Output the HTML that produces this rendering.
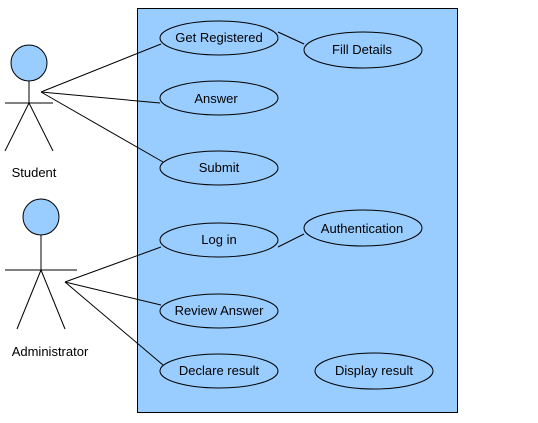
<!DOCTYPE html>
<html><head><meta charset="utf-8"><style>
html,body{margin:0;padding:0;background:#fff;}
svg{display:block}
text{font-family:"Liberation Sans",Arial,sans-serif;font-size:13px;fill:#000;}
</style></head><body>
<svg width="538" height="423" viewBox="0 0 538 423" xmlns="http://www.w3.org/2000/svg">
<rect x="137.5" y="8.5" width="320" height="404" fill="#99ccff" stroke="#000" stroke-width="1"/>
<g stroke="#000" stroke-width="1" fill="none">
<line x1="41" y1="92" x2="161" y2="44"/>
<line x1="41" y1="92" x2="160" y2="103"/>
<line x1="41" y1="92" x2="163" y2="162"/>
<line x1="278" y1="32" x2="304" y2="44"/>
<line x1="65" y1="282" x2="161" y2="247"/>
<line x1="65" y1="282" x2="161" y2="305"/>
<line x1="65" y1="282" x2="163" y2="365"/>
<line x1="278" y1="247" x2="304" y2="234"/>
<line x1="29" y1="81" x2="29" y2="103"/>
<line x1="5" y1="103" x2="53" y2="103"/>
<line x1="29" y1="103" x2="5" y2="151"/>
<line x1="29" y1="103" x2="53" y2="151"/>
<line x1="41" y1="235" x2="41" y2="270"/>
<line x1="5" y1="270" x2="77" y2="270"/>
<line x1="41" y1="270" x2="17" y2="329"/>
<line x1="41" y1="270" x2="65" y2="329"/>
</g>
<g stroke="#000" stroke-width="1" fill="#99ccff">
<circle cx="29" cy="63" r="18"/>
<circle cx="41" cy="217" r="18"/>
<ellipse cx="219" cy="38" rx="59" ry="17"/>
<ellipse cx="219" cy="98" rx="59" ry="17"/>
<ellipse cx="219" cy="168" rx="59" ry="17"/>
<ellipse cx="219" cy="240" rx="59" ry="17"/>
<ellipse cx="219" cy="311" rx="59" ry="17"/>
<ellipse cx="219" cy="371" rx="59" ry="17"/>
<ellipse cx="363" cy="50" rx="59" ry="18"/>
<ellipse cx="363" cy="228" rx="59" ry="18"/>
<ellipse cx="374" cy="371" rx="59" ry="18"/>
</g>
<g text-anchor="middle">
<text x="219" y="42">Get Registered</text>
<text x="216" y="103">Answer</text>
<text x="219" y="172">Submit</text>
<text x="219" y="244">Log in</text>
<text x="219" y="315">Review Answer</text>
<text x="219" y="375">Declare result</text>
<text x="362" y="54">Fill Details</text>
<text x="362" y="233">Authentication</text>
<text x="374" y="375">Display result</text>
<text x="34" y="177">Student</text>
<text x="50" y="356">Administrator</text>
</g>
</svg>
</body></html>
